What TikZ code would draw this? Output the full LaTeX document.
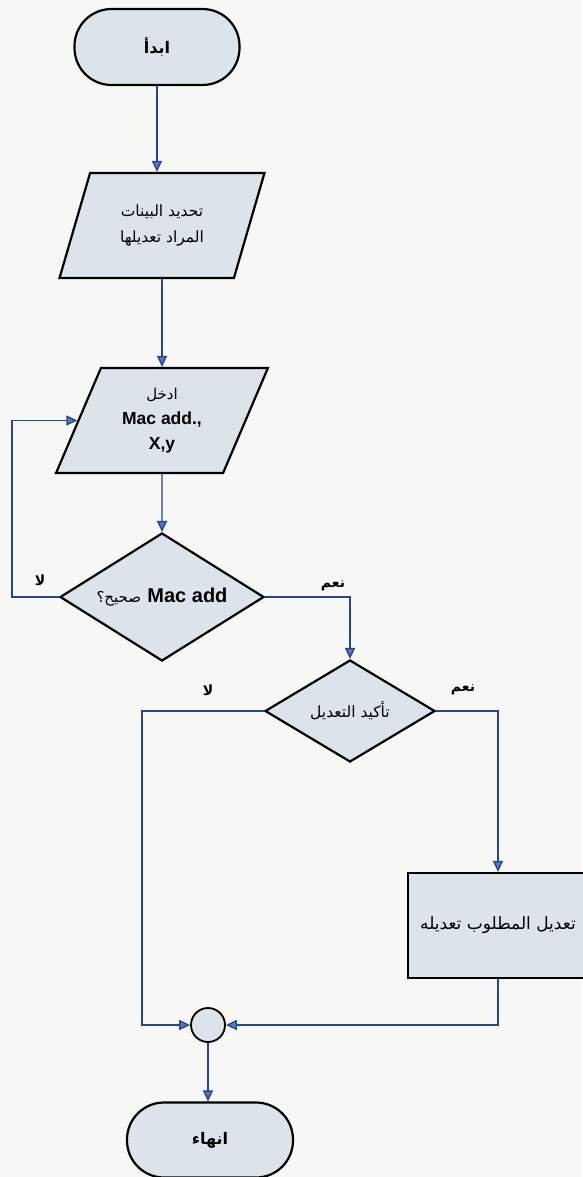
\documentclass[tikz,border=0pt]{standalone}
\usepackage{fontspec}
\setmainfont{Liberation Sans}
\newfontfamily\arfont[Script=Arabic]{DejaVu Sans}
\TeXXeTstate=1
\usetikzlibrary{shapes.geometric,arrows.meta}
\newcommand\artext[1]{{\arfont\beginR #1\endR}}

\definecolor{pagebg}{RGB}{247,247,245}
\definecolor{shapefill}{RGB}{221,227,234}
\definecolor{lineblue}{RGB}{40,70,135}
\definecolor{tipblue}{RGB}{85,120,205}

\begin{document}
\begin{tikzpicture}[x=1pt,y=-1pt,
  box/.style={draw=black, line width=2.2pt, fill=shapefill, align=center, inner sep=2pt},
  terminal/.style={box, rounded corners=37pt, minimum width=165pt, minimum height=76pt, font=\fontsize{16}{18}\selectfont\bfseries},
  iobox/.style={box, trapezium, trapezium stretches=true, minimum height=105pt},
  decision/.style={box, diamond, aspect=1.6},
  flow/.style={draw=lineblue, line width=1.4pt, -{Triangle[width=10pt,length=11pt,fill=tipblue]}},
  lbl/.style={font=\fontsize{14}{16}\selectfont\bfseries}
]
% page
\fill[pagebg] (0,0) rectangle (582,1177);
\useasboundingbox (0,0) rectangle (582,1177);

% x positions of the side loops
\coordinate (loopx) at (12,0);
\coordinate (skipx) at (142,0);

% nodes
\node[terminal] (start) at (157,47) {\artext{ابدأ}};

\node[iobox, trapezium left angle=67.7, trapezium right angle=112.3,
      minimum width=205pt, font=\fontsize{15.5}{26}\selectfont] (select) at (162,225.5)
  {\artext{تحديد البينات}\\\artext{المراد تعديلها}};

\node[iobox, trapezium left angle=66, trapezium right angle=114,
      minimum width=212pt, font=\fontsize{17.5}{25}\selectfont] (input) at (162,420.5)
  {{\fontsize{15}{16}\selectfont\artext{ادخل}}\\\textbf{Mac add.,}\\\textbf{X,y}};

\node[decision, minimum width=204pt, minimum height=128pt] (valid) at (162,597)
  {\arfont\beginR{\fontsize{20}{22}\selectfont\rmfamily\bfseries\beginL Mac add\endL}\ \ {\fontsize{15}{18}\selectfont صحيح؟}\endR};

\node[decision, minimum width=170pt, minimum height=102pt, font=\fontsize{15.5}{18}\selectfont] (confirm) at (350,711)
  {\artext{تأكيد التعديل}};

\node[box, minimum width=180pt, minimum height=105pt, font=\fontsize{17}{20}\selectfont] (modify) at (498,925.5)
  {\artext{تعديل المطلوب تعديله}};

\node[draw=black, line width=1.8pt, fill=shapefill, circle, minimum size=34pt, inner sep=0pt] (join) at (208,1025) {};

\node[terminal, minimum width=166pt, minimum height=75pt] (stop) at (210,1140) {\artext{انهاء}};

% branch labels
\node[lbl] (no1) at (40,580) {\artext{لا}};
\node[lbl] (yes1) at (333,586) {\artext{نعم}};
\node[lbl] (no2) at (208,690) {\artext{لا}};
\node[lbl] (yes2) at (463,690) {\artext{نعم}};

% connectors
\draw[flow] (start.south) -- (start.south |- select.north);
\draw[flow] (select.south) -- (select.south |- input.north);
\draw[flow] (input.south) -- (valid.north);
\draw[flow] (valid.west) -- (valid.west -| loopx) |- (input.left side);
\draw[flow] (valid.east) -| (confirm.north);
\draw[flow] (confirm.east) -| (modify.north);
\draw[flow] (confirm.west) -- (confirm.west -| skipx) |- (join.west);
\draw[flow] (modify.south) |- (join.east);
\draw[flow] (join.south) -- (join.south |- stop.north);
\end{tikzpicture}
\end{document}
